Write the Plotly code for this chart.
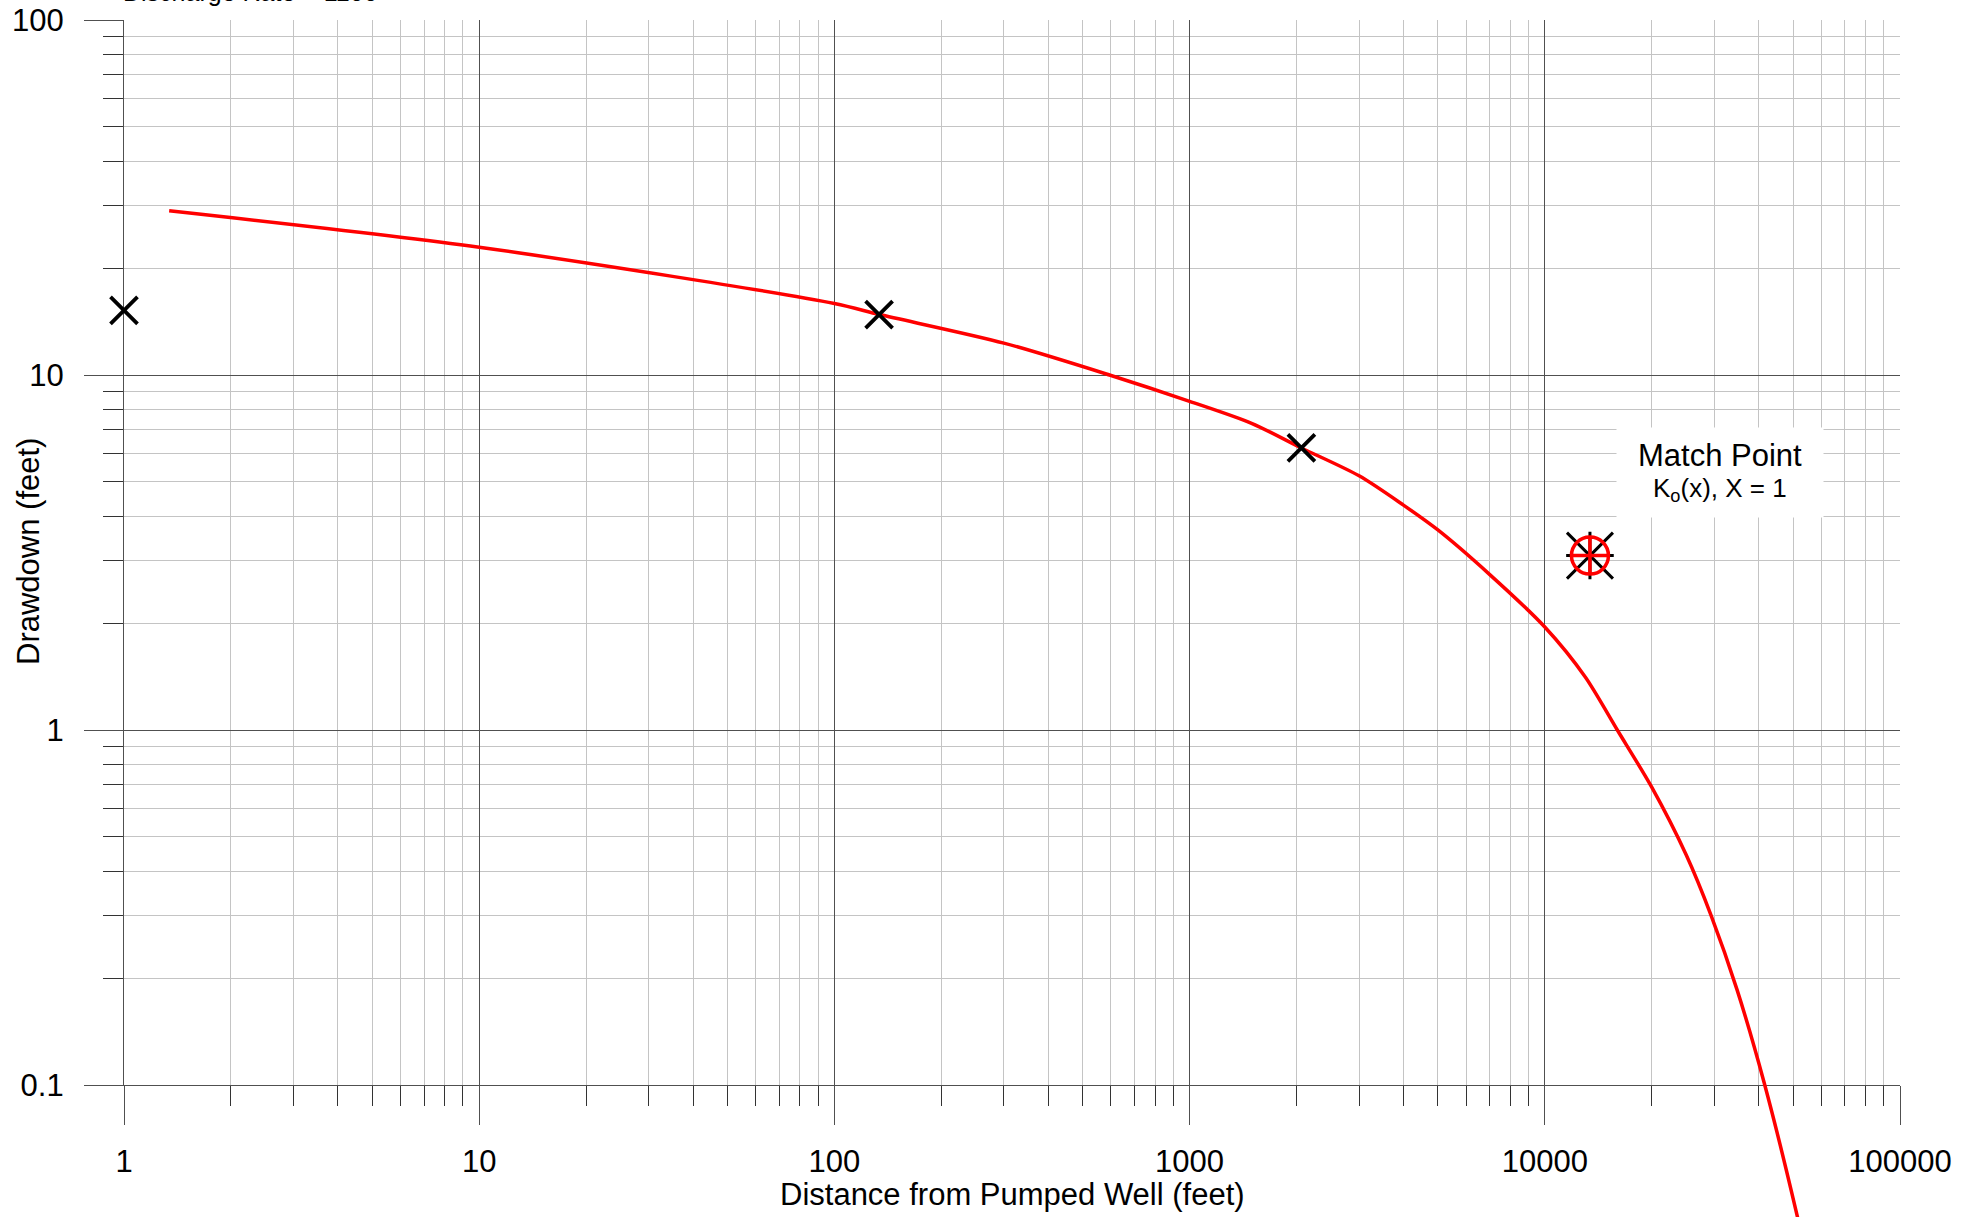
import plotly.graph_objects as go

# ---------------- data ----------------
curve_r = [1.34, 10, 100, 134, 300, 595, 1000, 1500, 2064, 3000, 4000, 5000,
           7000, 10000, 13000, 16000, 20000, 25000, 29400, 34800, 41400, 51300, 54000]
curve_s = [29.0, 22.9, 15.9, 14.8, 12.3, 10.0, 8.43, 7.3, 6.23, 5.2, 4.3, 3.66,
           2.74, 1.95, 1.41, 1.0, 0.69, 0.445, 0.30, 0.185, 0.102, 0.043, 0.034]

obs_r = [1.0, 133.6, 2064]
obs_s = [15.2, 14.8, 6.23]

match_r = [13400]
match_s = [3.1]

x_tickvals = [1, 10, 100, 1000, 10000, 100000]
x_ticktext = ["1", "10", "100", "1000", "10000", "100000"]
y_tickvals = [0.1, 1, 10, 100]
y_ticktext = ["0.1", "1", "10", "100"]

x_title = "Distance from Pumped Well (feet)"
y_title = "Drawdown (feet)"
top_note = "Discharge Rate = 1100"
match_title = "Match Point"
match_sub = "K<sub>o</sub>(x), X = 1"

# ---------------- layout geometry (screen pixels) ----------------
W, H = 1977, 1217
ML, MT, MB = 124, 20, 0
PW = 1776
MR = W - ML - PW
PH = H - MT - MB
axis_bottom_px = 1085                      # row of the 0.1 line
dom0 = (H - MB - axis_bottom_px) / PH
px_per_dec = PH * (1 - dom0) / 3.0
y2_low = 2 - PH / px_per_dec

FONT = "Liberation Sans, Arial, Helvetica, sans-serif"
MAJ = "#505050"
MIN = "#c4c4c4"

def px_to_paper_x(sx):
    return (sx - ML) / PW

def px_to_paper_y(sy):
    return (H - MB - sy) / PH

fig = go.Figure()

# invisible trace so the gridded main subplot is drawn
fig.add_trace(go.Scatter(x=obs_r, y=obs_s, mode="markers",
                         marker=dict(size=1, opacity=0),
                         xaxis="x", yaxis="y", showlegend=False, hoverinfo="skip"))

# curve + markers on full-height subplot (so the line can run below the axis)
fig.add_trace(go.Scatter(x=curve_r, y=curve_s, mode="lines",
                         line=dict(color="#ff0000", width=3.5, shape="spline", smoothing=0.8),
                         xaxis="x2", yaxis="y2", showlegend=False, hoverinfo="skip"))
fig.add_trace(go.Scatter(x=obs_r, y=obs_s, mode="markers",
                         marker=dict(symbol="x-thin-open", size=27, color="black",
                                     line=dict(color="black", width=3.8)),
                         xaxis="x2", yaxis="y2", showlegend=False, cliponaxis=False))
fig.add_trace(go.Scatter(x=match_r, y=match_s, mode="markers",
                         marker=dict(symbol="x-thin-open", size=46, color="black",
                                     line=dict(color="black", width=3)),
                         xaxis="x2", yaxis="y2", showlegend=False))
fig.add_trace(go.Scatter(x=match_r, y=match_s, mode="markers",
                         marker=dict(symbol="cross-thin-open", size=34, color="black",
                                     line=dict(color="black", width=3)),
                         xaxis="x2", yaxis="y2", showlegend=False))
fig.add_trace(go.Scatter(x=match_r, y=match_s, mode="markers",
                         marker=dict(symbol="circle-cross-open", size=37, color="#ff0000",
                                     line=dict(color="#ff0000", width=3.5)),
                         xaxis="x2", yaxis="y2", showlegend=False))

common = dict(type="log", showline=True, linecolor=MAJ, linewidth=1.3,
              showgrid=True, gridcolor=MAJ, gridwidth=1.3,
              ticks="outside", ticklen=39, tickwidth=1.3, tickcolor=MAJ,
              tickfont=dict(family=FONT, size=31, color="black"),
              zeroline=False, mirror=False, automargin=False,
              ticklabeloverflow="allow",
              minor=dict(ticks="outside", ticklen=20, tickwidth=1.2, tickcolor="#333333",
                         showgrid=True, gridcolor=MIN, gridwidth=1.2, dtick="D1"))

fig.update_layout(
    width=W, height=H,
    margin=dict(l=ML, r=MR, t=MT, b=MB, pad=0, autoexpand=False),
    paper_bgcolor="white", plot_bgcolor="rgba(0,0,0,0)",
    xaxis=dict(range=[0, 5], domain=[0, 1], anchor="y",
               tickvals=x_tickvals, ticktext=x_ticktext, ticklabelstandoff=10, **common),
    yaxis=dict(range=[-1, 2], domain=[dom0, 1], anchor="x",
               tickvals=y_tickvals, ticktext=y_ticktext, ticklabelstandoff=14, **common),
    xaxis2=dict(type="log", range=[0, 5], domain=[0, 1], anchor="y2", visible=False,
                automargin=False),
    yaxis2=dict(type="log", range=[y2_low, 2], domain=[0, 1], anchor="x2", visible=False,
                automargin=False),
    showlegend=False,
    annotations=[
        dict(text=x_title, x=px_to_paper_x(1012), y=px_to_paper_y(1194),
             xref="paper", yref="paper", showarrow=False,
             xanchor="center", yanchor="middle",
             font=dict(family=FONT, size=31, color="black")),
        dict(text=y_title, x=px_to_paper_x(28), y=px_to_paper_y(552),
             xref="paper", yref="paper", showarrow=False, textangle=-90,
             xanchor="center", yanchor="middle",
             font=dict(family=FONT, size=31, color="black")),
        dict(text=top_note, x=px_to_paper_x(250), y=px_to_paper_y(-7.5),
             xref="paper", yref="paper", showarrow=False,
             xanchor="center", yanchor="middle",
             font=dict(family=FONT, size=25, color="black")),
        # white label box
        dict(text=" ", x=px_to_paper_x(1720), y=px_to_paper_y(472),
             xref="paper", yref="paper", showarrow=False,
             xanchor="center", yanchor="middle",
             width=206, height=89, borderpad=0, bgcolor="white",
             font=dict(family=FONT, size=10, color="white")),
        dict(text=match_title, x=px_to_paper_x(1720), y=px_to_paper_y(455),
             xref="paper", yref="paper", showarrow=False,
             xanchor="center", yanchor="middle",
             font=dict(family=FONT, size=31, color="black")),
        dict(text=match_sub, x=px_to_paper_x(1720), y=px_to_paper_y(489),
             xref="paper", yref="paper", showarrow=False,
             xanchor="center", yanchor="middle",
             font=dict(family=FONT, size=26, color="black")),
    ],
)

fig.write_html("out.html", config={"displayModeBar": False},
               post_script="document.body.style.margin='0px';")
